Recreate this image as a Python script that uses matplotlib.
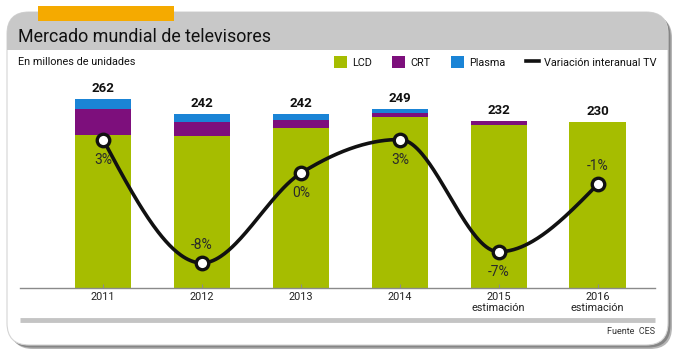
import numpy as np
import matplotlib
matplotlib.use("Agg")
import matplotlib.pyplot as plt
from matplotlib.patches import FancyBboxPatch, Rectangle, Patch
from matplotlib.lines import Line2D

# ---------------- data ----------------
years = ["2011", "2012", "2013", "2014", "2015\nestimación", "2016\nestimación"]
lcd = [213, 211, 222, 237, 226, 230]
crt = [35, 20, 12, 6, 6, 0]
plasma = [14, 11, 8, 6, 0, 0]
totals = [262, 242, 242, 249, 232, 230]
variation = [3, -8, 0, 3, -7, -1]
var_labels = ["3%", "-8%", "0%", "3%", "-7%", "-1%"]
label_side = ["below", "above", "below", "below", "below", "above"]

C_LCD = "#a6bd00"
C_CRT = "#7d0f7c"
C_PLASMA = "#1a84d6"

plt.rcParams["font.family"] = ["Roboto", "DejaVu Sans"]

W, H = 680, 357
fig = plt.figure(figsize=(W / 100, H / 100), dpi=100)
fig.patch.set_facecolor("white")

# ---------------- background card ----------------
bg = fig.add_axes([0, 0, 1, 1], zorder=0)
bg.set_xlim(0, W)
bg.set_ylim(H, 0)
bg.axis("off")

cx, cy, cw, ch = 7, 12, 661, 333
shadow2 = FancyBboxPatch((cx + 4, cy + 4), cw, ch, boxstyle="round,pad=0,rounding_size=22",
                         facecolor="#b5b5b5", edgecolor="none")
bg.add_patch(shadow2)
shadow = FancyBboxPatch((cx + 2.5, cy + 2.5), cw, ch, boxstyle="round,pad=0,rounding_size=22",
                        facecolor="#858585", edgecolor="none")
bg.add_patch(shadow)
card = FancyBboxPatch((cx, cy), cw, ch, boxstyle="round,pad=0,rounding_size=22",
                      facecolor="white", edgecolor="#d4d4d4", linewidth=0.8)
bg.add_patch(card)
header = FancyBboxPatch((cx, cy), cw, ch, boxstyle="round,pad=0,rounding_size=22",
                        facecolor="#c8c8c8", edgecolor="none")
bg.add_patch(header)
clip = Rectangle((0, 0), W, 50, transform=bg.transData)
header.set_clip_path(clip)
bg.add_patch(Rectangle((38, 6), 136, 15, facecolor="#f5aa00", edgecolor="none"))

bg.text(18, 37, "Mercado mundial de televisores", fontsize=12.9, color="#111111",
        ha="left", va="center")
bg.text(18, 62, "En millones de unidades", fontsize=7.8, color="#111111",
        ha="left", va="center")
bg.plot([20, 655], [320, 320], color="#c4c4c4", linewidth=3.5, solid_capstyle="butt")
bg.text(655, 332, "Fuente  CES", fontsize=6.5, color="#333333", ha="right", va="center")

# ---------------- main chart ----------------
bottom_px, top_px, left_px, right_px = 288, 80, 20, 655
ax = fig.add_axes([left_px / W, 1 - bottom_px / H, (right_px - left_px) / W,
                   (bottom_px - top_px) / H], zorder=1)
ax.patch.set_alpha(0)
x = np.arange(len(years))
bw = 0.57
b1 = ax.bar(x, lcd, bw, color=C_LCD)
b2 = ax.bar(x, crt, bw, bottom=lcd, color=C_CRT)
b3 = ax.bar(x, plasma, bw, bottom=np.add(lcd, crt), color=C_PLASMA)
ax.bar_label(b3, labels=[str(t) for t in totals], padding=3, fontsize=9.5,
             fontweight="bold", color="#111111")
px_per_unit = 0.72
ax.set_ylim(0, (bottom_px - top_px) / px_per_unit)
ax.set_xlim(-0.84, 5.58)
for s in ["top", "right", "left"]:
    ax.spines[s].set_visible(False)
ax.spines["bottom"].set_color("#8a8a8a")
ax.spines["bottom"].set_linewidth(1)
ax.set_yticks([])
ax.set_xticks(x)
ax.set_xticklabels(years, fontsize=7.8, color="#222222", linespacing=1.05)
ax.tick_params(axis="x", direction="in", length=3, color="#8a8a8a", pad=3)

# ---------------- variation line ----------------
ax2 = ax.twinx()
ax2.set_zorder(2)
ax2.patch.set_alpha(0)
for s in ax2.spines.values():
    s.set_visible(False)
ax2.set_yticks([])
slope = (263 - 139.5) / 11.0
ax2.set_ylim(3 - (bottom_px - 139.5) / slope, 3 + (139.5 - top_px) / slope)


def monotone_curve(xs, ys, n=80):
    xs = np.asarray(xs, float)
    ys = np.asarray(ys, float)
    h = np.diff(xs)
    s = np.diff(ys) / h
    m = np.zeros_like(ys)
    for i in range(1, len(ys) - 1):
        p = (s[i - 1] * h[i] + s[i] * h[i - 1]) / (h[i - 1] + h[i])
        m[i] = (np.sign(s[i - 1]) + np.sign(s[i])) * min(abs(s[i - 1]), abs(s[i]), 0.5 * abs(p))
    m[0] = (3 * s[0] - m[1]) / 2
    m[-1] = (3 * s[-1] - m[-2]) / 2
    X, Y = [], []
    for i in range(len(xs) - 1):
        t = np.linspace(0, 1, n)
        h00 = 2 * t**3 - 3 * t**2 + 1
        h10 = t**3 - 2 * t**2 + t
        h01 = -2 * t**3 + 3 * t**2
        h11 = t**3 - t**2
        X.append(xs[i] + t * h[i])
        Y.append(h00 * ys[i] + h10 * h[i] * m[i] + h01 * ys[i + 1] + h11 * h[i] * m[i + 1])
    return np.concatenate(X), np.concatenate(Y)


cxs, cys = monotone_curve(x, variation)
ax2.plot(cxs, cys, color="#111111", linewidth=2.6, solid_capstyle="round")
ax2.plot(x, variation, linestyle="none", marker="o", markersize=9,
         markerfacecolor="white", markeredgecolor="#111111", markeredgewidth=2.4)
for xi, v, lab, side in zip(x, variation, var_labels, label_side):
    off = -14.5 if side == "below" else 13
    ax2.annotate(lab, (xi, v), xytext=(0, off), textcoords="offset points",
                 ha="center", va="center", fontsize=10, color="#2a2a2a")

# ---------------- legend ----------------
handles = [Patch(facecolor=C_LCD), Patch(facecolor=C_CRT), Patch(facecolor=C_PLASMA),
           Line2D([0], [0], color="#111111", linewidth=2.6)]
labels = ["LCD", "CRT", "Plasma", "Variación interanual TV"]
fig.legend(handles, labels, ncol=4, loc="center right",
           bbox_to_anchor=(656 / W, 1 - 62 / H), bbox_transform=fig.transFigure,
           frameon=False, fontsize=7.8, handlelength=1.2, handleheight=1.2,
           handletextpad=0.45, columnspacing=1.9, borderaxespad=0, borderpad=0,
           labelcolor="#111111")

fig.savefig("out.png", dpi=100, facecolor=fig.get_facecolor())
